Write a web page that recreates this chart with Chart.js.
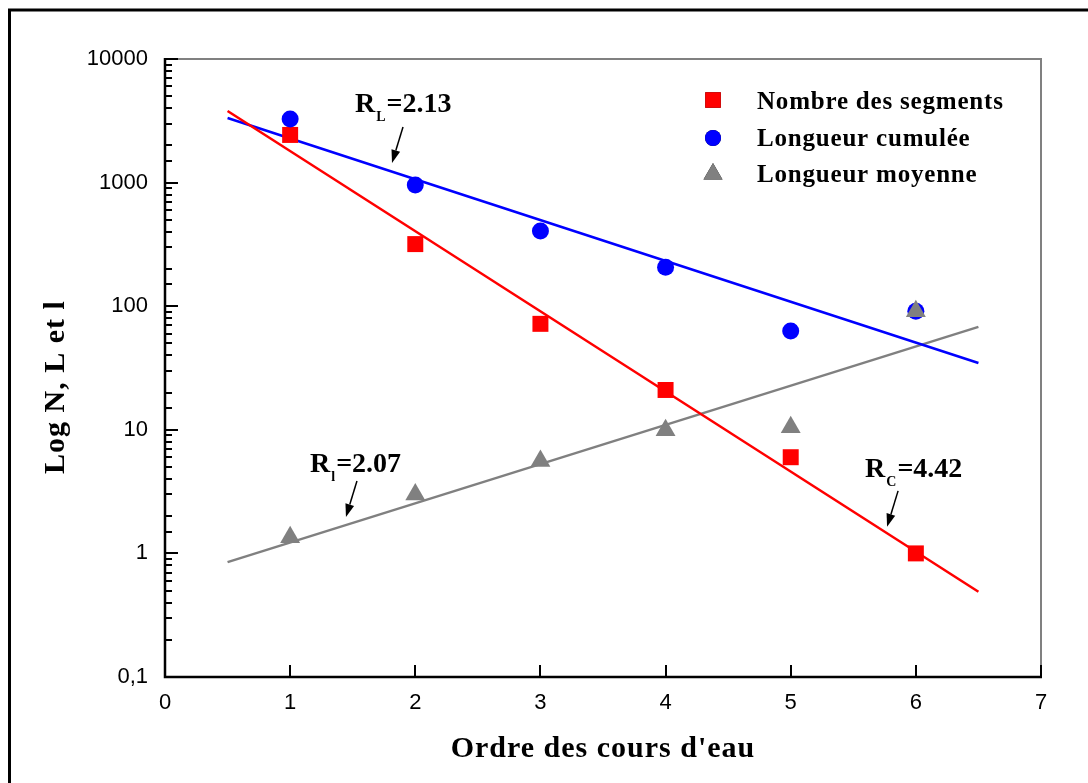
<!DOCTYPE html>
<html>
<head>
<meta charset="utf-8">
<script src="https://cdn.jsdelivr.net/npm/chart.js@4/dist/chart.umd.min.js"></script>
<style>
  html, body { margin: 0; padding: 0; background: #fff; }
  canvas { display: block; }
</style>
</head>
<body>
<canvas id="chart" width="1088" height="783"></canvas>
<script>
// Stream orders and the three Horton-law series
const ordres = [1, 2, 3, 4, 5, 6];
const nombreSegments = [2430, 318, 72, 21, 6, 1];
const longueurCumulee = [3270, 957, 406, 207, 63, 91];
const longueurMoyenne = [1.35, 3.0, 5.6, 9.9, 10.5, 91];

// Regression lines (end points)
const ordresAjustement = [0.5, 6.5];
const ajustSegments = [3800, 0.49];
const ajustCumulee = [3330, 34.7];
const ajustMoyenne = [0.85, 68];

// Axis ticks
const yTickValues = [0.1, 1, 10, 100, 1000, 10000];
const yTickLabels = ['0,1', '1', '10', '100', '1000', '10000'];
const xTickValues = [0, 1, 2, 3, 4, 5, 6, 7];

const seriesNames = ['Nombre des segments', 'Longueur cumulée', 'Longueur moyenne'];
const titreX = "Ordre des cours d'eau";
const titreY = 'Log N, L et l';

// Ratio labels: text, anchor (data coords) and arrow tip (data coords)
const ratioLabels = [
  { main: 'R', sub: 'L', rest: '=2.13', at: [1.518, 3724], tip: [1.814, 1442] },
  { main: 'R', sub: 'l', rest: '=2.07', at: [1.159, 4.56], tip: [1.446, 1.97] },
  { main: 'R', sub: 'C', rest: '=4.42', at: [5.594, 4.15], tip: [5.770, 1.64] }
];

const ROUGE = '#ff0000', BLEU = '#0000ff', GRIS = '#808080';
const SERIF = '"Liberation Serif", "Times New Roman", serif';
const SANS = '"Liberation Sans", Arial, sans-serif';

const pts = (xs, ys) => xs.map((x, i) => ({ x, y: ys[i] }));

// Frame, axes, inside tick marks, titles, legend and ratio annotations
const decorPlugin = {
  id: 'decor',
  beforeDraw(chart) {
    const ctx = chart.ctx;
    ctx.save();
    ctx.fillStyle = '#fff';
    ctx.fillRect(0, 0, chart.width, chart.height);
    ctx.strokeStyle = '#000';
    ctx.lineWidth = 3;
    ctx.beginPath();
    ctx.moveTo(9.5, chart.height + 10);
    ctx.lineTo(9.5, 10);
    ctx.lineTo(chart.width + 10, 10);
    ctx.stroke();
    ctx.restore();
  },
  afterDatasetsDraw(chart) {
    const ctx = chart.ctx;
    const a = chart.chartArea;
    const xs = chart.scales.x, ys = chart.scales.y;
    ctx.save();
    // top and right axis lines
    ctx.strokeStyle = GRIS;
    ctx.lineWidth = 2;
    ctx.beginPath();
    ctx.moveTo(a.left, a.top);
    ctx.lineTo(a.right, a.top);
    ctx.lineTo(a.right, a.bottom);
    ctx.stroke();
    // left and bottom axis lines
    ctx.strokeStyle = '#000';
    ctx.lineWidth = 2.5;
    ctx.beginPath();
    ctx.moveTo(a.left, a.top - 1);
    ctx.lineTo(a.left, a.bottom);
    ctx.lineTo(a.right + 1, a.bottom);
    ctx.stroke();
    // y tick marks (inside)
    ctx.lineWidth = 2;
    ys.ticks.forEach(t => {
      const y = Math.round(ys.getPixelForValue(t.value));
      const lg = Math.log10(t.value);
      const major = Math.abs(lg - Math.round(lg)) < 1e-6;
      const len = major ? 13 : 7;
      ctx.beginPath();
      ctx.moveTo(a.left, y);
      ctx.lineTo(a.left + len, y);
      ctx.stroke();
    });
    // x tick marks (inside)
    xTickValues.forEach(v => {
      if (v === 0) return;
      const x = Math.round(xs.getPixelForValue(v));
      ctx.beginPath();
      ctx.moveTo(x, a.bottom);
      ctx.lineTo(x, a.bottom - 12);
      ctx.stroke();
    });

    ctx.fillStyle = '#000';
    // axis titles
    ctx.font = 'bold 30px ' + SERIF;
    ctx.letterSpacing = '1px';
    ctx.textAlign = 'center';
    ctx.textBaseline = 'alphabetic';
    ctx.fillText(titreX, (a.left + a.right) / 2, 757);
    ctx.save();
    ctx.translate(64, 387);
    ctx.rotate(-Math.PI / 2);
    ctx.fillText(titreY, 0, 0);
    ctx.restore();

    // legend
    const rows = [100, 138, 174];
    const baselines = [109, 146, 182];
    chart.data.datasets.slice(0, 3).forEach((ds, i) => {
      Chart.helpers.drawPoint(ctx, {
        pointStyle: ds.pointStyle,
        radius: ds.legendRadius,
        rotation: 0,
        borderWidth: 0
      }, 713, rows[i]);
      ctx.fillStyle = ds.backgroundColor;
      ctx.fill();
      ctx.fillStyle = '#000';
      ctx.font = 'bold 25px ' + SERIF;
      ctx.letterSpacing = '0.8px';
      ctx.textAlign = 'left';
      ctx.textBaseline = 'alphabetic';
      ctx.fillText(ds.label, 757, baselines[i]);
    });

    // ratio annotations with arrows
    ctx.letterSpacing = '0px';
    ratioLabels.forEach(r => {
      const x0 = xs.getPixelForValue(r.at[0]);
      const y0 = ys.getPixelForValue(r.at[1]);
      ctx.fillStyle = '#000';
      ctx.textAlign = 'left';
      ctx.textBaseline = 'alphabetic';
      ctx.font = 'bold 28px ' + SERIF;
      ctx.fillText(r.main, x0, y0);
      let x = x0 + ctx.measureText(r.main).width + 1;
      ctx.font = 'bold 14px ' + SERIF;
      ctx.fillText(r.sub, x, y0 + 9);
      x += ctx.measureText(r.sub).width + 1;
      ctx.font = 'bold 28px ' + SERIF;
      ctx.fillText(r.rest, x, y0);

      const tx = xs.getPixelForValue(r.tip[0]);
      const ty = ys.getPixelForValue(r.tip[1]);
      const sx = tx + 11, sy = ty - 36;
      const ang = Math.atan2(ty - sy, tx - sx);
      const head = 13, half = 4.5;
      const bx = tx - Math.cos(ang) * head, by = ty - Math.sin(ang) * head;
      ctx.strokeStyle = '#000';
      ctx.lineWidth = 1.5;
      ctx.beginPath();
      ctx.moveTo(sx, sy);
      ctx.lineTo(bx, by);
      ctx.stroke();
      ctx.beginPath();
      ctx.moveTo(tx, ty);
      ctx.lineTo(bx + Math.sin(ang) * half, by - Math.cos(ang) * half);
      ctx.lineTo(bx - Math.sin(ang) * half, by + Math.cos(ang) * half);
      ctx.closePath();
      ctx.fill();
    });
    ctx.restore();
  }
};

const matchTick = (v) => {
  const i = yTickValues.findIndex(t => Math.abs(t - v) / t < 1e-6);
  return i >= 0 ? yTickLabels[i] : '';
};

new Chart(document.getElementById('chart'), {
  type: 'scatter',
  data: {
    datasets: [
      { label: seriesNames[0], data: pts(ordres, nombreSegments), pointStyle: 'rect',
        pointRadius: 11.3, legendRadius: 11, backgroundColor: ROUGE, borderWidth: 0, order: 3 },
      { label: seriesNames[1], data: pts(ordres, longueurCumulee), pointStyle: 'circle',
        pointRadius: 8.5, legendRadius: 8, backgroundColor: BLEU, borderWidth: 0, order: 2 },
      { label: seriesNames[2], data: pts(ordres, longueurMoyenne), pointStyle: 'triangle',
        pointRadius: 11.5, legendRadius: 11, backgroundColor: GRIS, borderWidth: 0, order: 1 },
      { type: 'line', data: pts(ordresAjustement, ajustSegments), showLine: true,
        borderColor: ROUGE, borderWidth: 2.5, pointRadius: 0, fill: false, order: 10 },
      { type: 'line', data: pts(ordresAjustement, ajustCumulee), showLine: true,
        borderColor: BLEU, borderWidth: 2.5, pointRadius: 0, fill: false, order: 10 },
      { type: 'line', data: pts(ordresAjustement, ajustMoyenne), showLine: true,
        borderColor: GRIS, borderWidth: 2.5, pointRadius: 0, fill: false, order: 10 }
    ]
  },
  options: {
    responsive: false,
    animation: false,
    devicePixelRatio: 1,
    layout: { padding: { left: 0, top: 59, right: 47, bottom: 0 } },
    plugins: { legend: { display: false }, tooltip: { enabled: false } },
    elements: { point: { hoverRadius: 0 } },
    scales: {
      x: {
        type: 'linear', min: 0, max: 7,
        grid: { display: false, drawTicks: false },
        border: { display: false },
        ticks: { stepSize: 1, color: '#000', padding: 13,
                 font: { family: SANS, size: 22 } },
        afterFit: (s) => { s.height = 106; }
      },
      y: {
        type: 'logarithmic', min: 0.1, max: 10000,
        grid: { display: false, drawTicks: false },
        border: { display: false },
        ticks: { autoSkip: false, color: '#000', padding: 17,
                 font: { family: SANS, size: 22 },
                 callback: (v) => matchTick(v) },
        afterFit: (s) => { s.width = 165; }
      }
    }
  },
  plugins: [decorPlugin]
});
</script>
</body>
</html>
